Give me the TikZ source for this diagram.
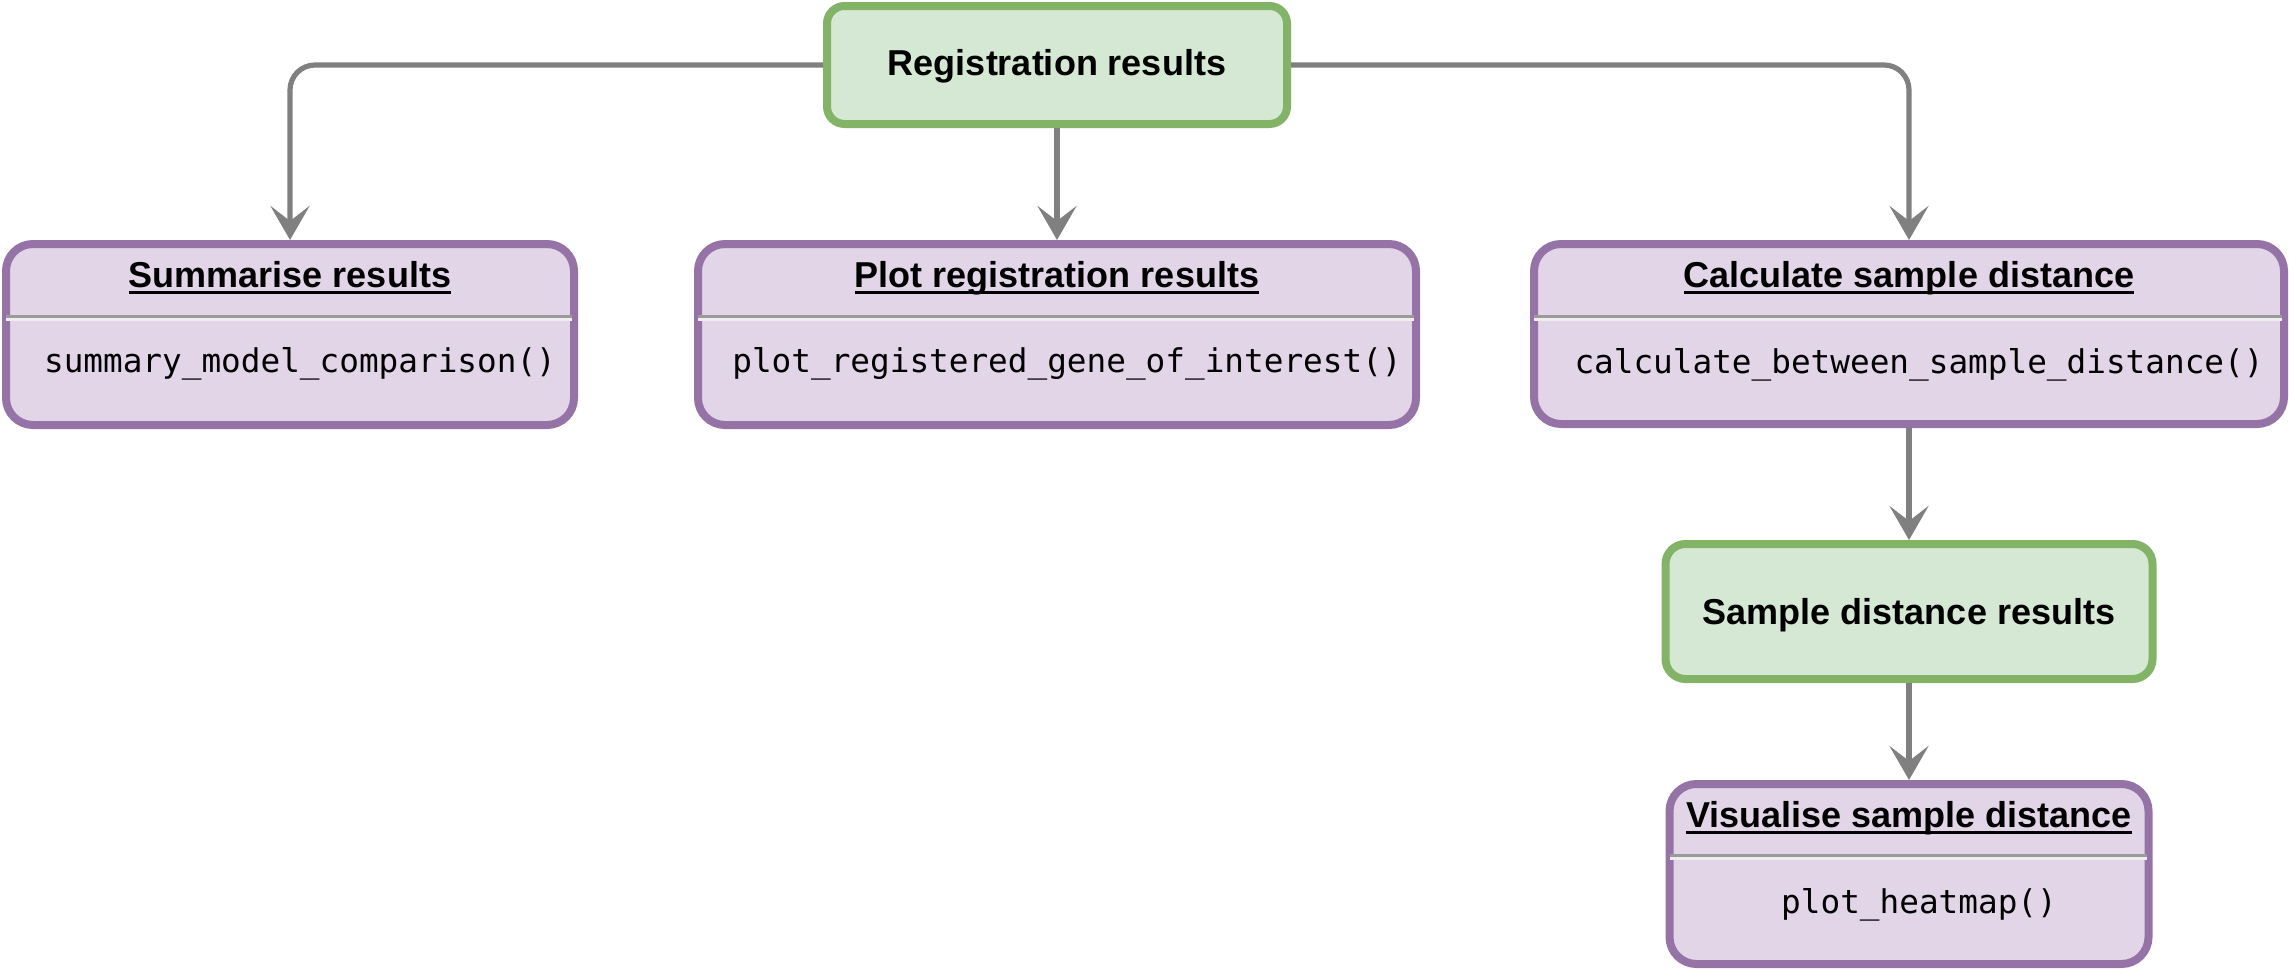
\documentclass[tikz,border=0pt]{standalone}
\usepackage{fontspec}
\setmainfont{Liberation Sans}
\newfontfamily\codefont{DejaVu Sans Mono}
\usetikzlibrary{arrows.meta}
\definecolor{gfill}{HTML}{D5E8D4}
\definecolor{gline}{HTML}{82B366}
\definecolor{pfill}{HTML}{E1D5E7}
\definecolor{pline}{HTML}{9673A6}
\definecolor{agray}{HTML}{808080}
\definecolor{sepdark}{HTML}{9A9A9A}
\definecolor{seplight}{HTML}{EEEEEE}
\newcommand\ulin[1]{\setbox0\hbox{#1}\rlap{\rule[-0.19em]{\wd0}{0.08em}}\box0}
\tikzset{
  boxbase/.style={draw, line width=4pt, inner sep=0pt, outer sep=2pt},
  greenbox/.style={boxbase, fill=gfill, draw=gline},
  purplebox/.style={boxbase, fill=pfill, draw=pline, rounded corners=13.5pt},
  titletext/.style={anchor=base, inner sep=0pt, font=\fontsize{18}{21.6}\selectfont\bfseries},
  codetext/.style={anchor=base, inner sep=0pt, font=\fontsize{16.35}{19.6}\selectfont\codefont},
  conn/.style={draw=agray, line width=2.6pt, -{Stealth[length=17pt, width=19.5pt, inset=7.5pt]}, rounded corners=12.5pt},
  sepgray/.style={draw=sepdark, line width=1.5pt},
  seplite/.style={draw=seplight, line width=1.5pt}
}
\begin{document}
\begin{tikzpicture}[x=0.5pt, y=-0.5pt]
\useasboundingbox (0,0) rectangle (2289,969);

% boxes
\node[greenbox, rounded corners=8.75pt, minimum width=230pt, minimum height=59pt] (reg) at (1057,65) {};
\node[purplebox, minimum width=284pt, minimum height=90.5pt] (summ) at (290,334.5) {};
\node[purplebox, minimum width=359pt, minimum height=90.5pt] (plot) at (1057,334.5) {};
\node[purplebox, minimum width=375pt, minimum height=90pt] (calc) at (1909,334) {};
\node[greenbox, rounded corners=10pt, minimum width=243.5pt, minimum height=67.5pt] (sample) at (1909,611.5) {};
\node[purplebox, minimum width=239.5pt, minimum height=90pt] (vis) at (1909,874) {};

% separators
\foreach \b/\y in {summ/316, plot/316, calc/316, vis/855}{
  \draw[sepgray] ([xshift=2pt]\b.west |- 0,\y) -- ([xshift=-3pt]\b.east |- 0,\y);
  \draw[seplite] ([xshift=2pt]\b.west |- 0,\y+3.3) -- ([xshift=-3pt]\b.east |- 0,\y+3.3);
}

% texts
\node[titletext] (regT) at (1057,75) {Registration results};
\node[titletext] (summT) at (290,287) {\ulin{Summarise results}};
\node[codetext] (summC) at (300,372) {summary\_model\_comparison()};
\node[titletext] (plotT) at (1057,287) {\ulin{Plot registration results}};
\node[codetext] (plotC) at (1067,372) {plot\_registered\_gene\_of\_interest()};
\node[titletext] (calcT) at (1909,287) {\ulin{Calculate sample distance}};
\node[codetext] (calcC) at (1919,373) {calculate\_between\_sample\_distance()};
\node[titletext] (sampleT) at (1909,624) {Sample distance results};
\node[titletext] (visT) at (1909,827) {\ulin{Visualise sample distance}};
\node[codetext] (visC) at (1919,913) {plot\_heatmap()};

% connectors
\draw[conn] (reg.west) -| (summ.north);
\draw[conn] (reg.south) -- (plot.north);
\draw[conn] (reg.east) -| (calc.north);
\draw[conn] (calc.south) -- (sample.north);
\draw[conn] (sample.south) -- (vis.north);
\end{tikzpicture}
\end{document}
